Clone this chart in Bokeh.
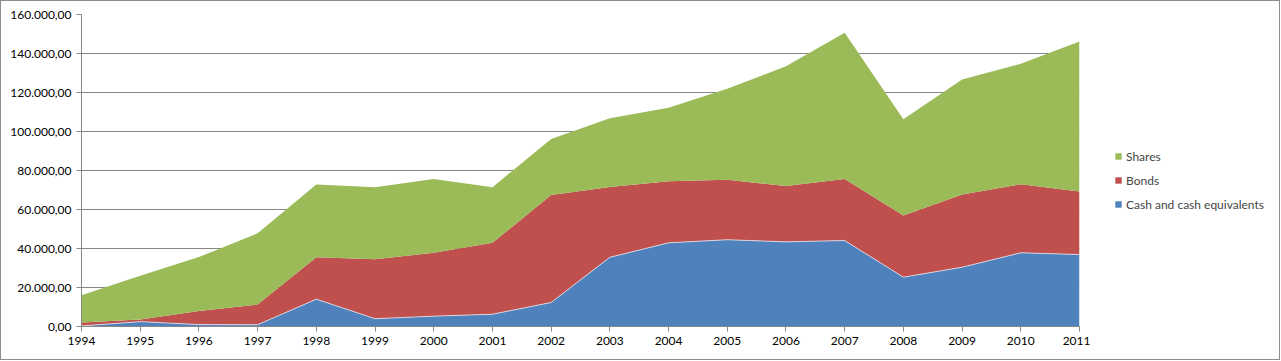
from bokeh.plotting import figure
from bokeh.layouts import row
from bokeh.models import ColumnDataSource, Legend, LegendItem, FixedTicker, CustomJSTickFormatter
from bokeh.embed import file_html
from bokeh.resources import INLINE

years = list(range(1994, 2012))
cash = [300, 2500, 1000, 900, 14000, 4000, 5300, 6300, 12300, 35500, 42900, 44500, 43400, 44100, 25300, 30400, 37800, 36900]
bonds = [1700, 1100, 6900, 10400, 21500, 30500, 32500, 36600, 55200, 36000, 31600, 30700, 28600, 31500, 31600, 37300, 35200, 32300]
shares = [14000, 22400, 27700, 36500, 37300, 36900, 37800, 28500, 28600, 35300, 37700, 46700, 61500, 75100, 49400, 59000, 61700, 76900]
series_names = ["Cash and cash equivalents", "Bonds", "Shares"]
colors = ["#4F81BD", "#C0504D", "#9BBB59"]
y_ticks = [0, 20000, 40000, 60000, 80000, 100000, 120000, 140000, 160000]

src = ColumnDataSource(dict(year=years, cash=cash, bonds=bonds, shares=shares,
                            cash_top=cash))

FONT = "Lato"
p = figure(width=1089, height=358, output_backend="svg", toolbar_location=None,
           x_range=(1994, 2011), y_range=(0, 160000),
           min_border_left=80, min_border_right=11, min_border_top=13, min_border_bottom=33)
p.outline_line_color = None

rs = p.varea_stack(stackers=["cash", "bonds", "shares"], x="year", color=colors, source=src)
p.line(x="year", y="cash_top", source=src, line_color="#e4e9f2", line_width=0.8)

p.xaxis.ticker = FixedTicker(ticks=years)
p.yaxis.ticker = FixedTicker(ticks=y_ticks)
p.yaxis.formatter = CustomJSTickFormatter(code="""
const s = tick.toFixed(2).split('.');
return s[0].replace(/\\B(?=(\\d{3})+(?!\\d))/g, '.') + ',' + s[1];
""")
for ax in (p.xaxis[0], p.yaxis[0]):
    ax.axis_line_color = "#868686"
    ax.major_tick_line_color = "#868686"
    ax.major_tick_out = 5
    ax.major_tick_in = 0
    ax.minor_tick_line_color = None
    ax.major_label_text_font = FONT
    ax.major_label_text_font_size = "12px"
    ax.major_label_text_color = "#000000"
    ax.major_label_standoff = 5
p.xgrid.grid_line_color = None
p.ygrid.grid_line_color = "#868686"
p.ygrid.grid_line_width = 1

# legend panel: same stacked areas, outside its (empty) view range, only used for legend swatches
p2 = figure(width=189, height=358, output_backend="svg", toolbar_location=None,
            x_range=(0, 1), y_range=(0, 1), x_axis_type=None, y_axis_type=None,
            min_border_left=0, min_border_right=0, min_border_top=0, min_border_bottom=0)
p2.outline_line_color = None
p2.xgrid.visible = False
p2.ygrid.visible = False
rs2 = p2.varea_stack(stackers=["cash", "bonds", "shares"], x="year", color=colors, source=src)

items = [LegendItem(label=series_names[i], renderers=[rs2[i]]) for i in (2, 1, 0)]
legend = Legend(items=items, location=(24, 112), padding=0, margin=0, spacing=4,
                glyph_width=8, glyph_height=8, label_height=20, label_standoff=4,
                label_text_font=FONT, label_text_font_size="12px",
                border_line_color=None, background_fill_alpha=0)
p2.add_layout(legend, "center")

layout = row(p, p2, spacing=0, styles={"border": "1px solid #8c8c8c"})
open("out.html", "w").write(file_html(layout, INLINE))
